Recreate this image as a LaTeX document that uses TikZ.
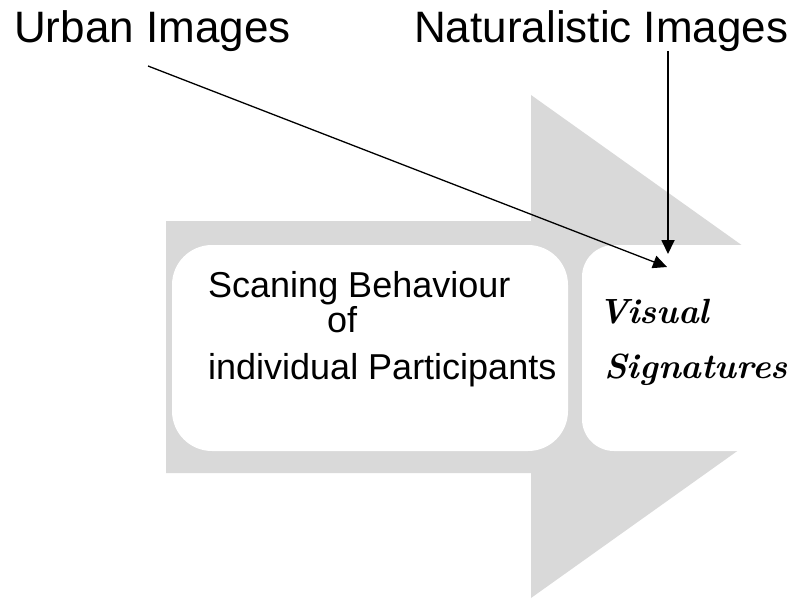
\documentclass[tikz,border=0pt]{standalone}
\usepackage{fontspec}
\setmainfont{Liberation Sans}
\newfontfamily\scriptlm{Latin Modern Roman}
\usetikzlibrary{arrows.meta}
\definecolor{arrowgray}{HTML}{D9D9D9}
\tikzset{
  toplabel/.style={anchor=base west, inner sep=0pt, font=\fontsize{44}{50}\selectfont},
  boxtext/.style={anchor=base west, inner sep=0pt, font=\fontsize{36}{40}\selectfont},
  sigtext/.style={anchor=base west, inner sep=0pt, font=\scriptlm\bfseries\itshape\fontsize{35}{40}\selectfont},
  whitebox/.style={fill=white, draw=none},
  conn/.style={draw=black, -{Triangle[length=14pt,width=13pt]}},
}
\begin{document}
\begin{tikzpicture}[x=1pt,y=-1pt]
\useasboundingbox (0,0) rectangle (795,599);
\begin{scope}
\clip (0,0) rectangle (795,599);
% big gray arrow
\fill[arrowgray] (166,221) -- (531,221) -- (531,95) -- (884,346.5) -- (531,598) -- (531,473) -- (166,473) -- cycle;
% white rounded boxes
\fill[whitebox, rounded corners=40pt] (172,245) rectangle (568,451);
\fill[whitebox, rounded corners=32pt] (582,245) rectangle (860,451);
\end{scope}
% labels
\node[toplabel] (urban) at (14,43) {Urban Images};
\node[toplabel] (natural) at (414,43) {Naturalistic Images};
% box 1 text
\node[boxtext] (scan1) at (208,297) {Scaning Behaviour};
\node[boxtext] (scan2) at (327,332) {of};
\node[boxtext] (scan3) at (208,379) {individual Participants};
% box 2 text
\node[sigtext] (vis1) at (598,323) {Visual};
\node[sigtext] (vis2) at (604,378) {Signatures};
% connectors
\coordinate (ustart) at (148,66);
\coordinate (utip) at (667,267);
\coordinate (nstart) at (668,51);
\coordinate (ntip) at (668,254);
\draw[conn, line width=1.3pt] (ustart) -- (utip);
\draw[conn, line width=1.8pt] (nstart) -- (ntip);
\end{tikzpicture}
\end{document}
